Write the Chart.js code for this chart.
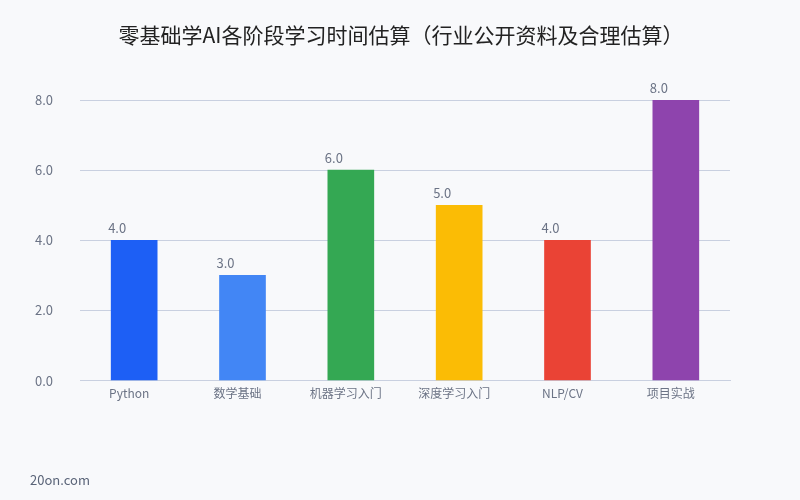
<!DOCTYPE html>
<html><head><meta charset="utf-8">
<script src="https://cdn.jsdelivr.net/npm/chart.js@4/dist/chart.umd.min.js"></script>
<style>html,body{margin:0;padding:0;background:#f8f9fb;}#wrap{width:800px;height:500px;position:relative;}</style>
</head><body><div id="wrap"><canvas id="c" width="800" height="500"></canvas></div>
<script>
const categories = ['Python', '数学基础', '机器学习入门', '深度学习入门', 'NLP/CV', '项目实战'];
const hours = [4.0, 3.0, 6.0, 5.0, 4.0, 8.0];
const yTicks = [0, 2, 4, 6, 8];
const barColors = ['#1d5ff5', '#4286f5', '#34a853', '#fbbc05', '#ea4335', '#8e44ad'];
const titleText = '零基础学AI各阶段学习时间估算（行业公开资料及合理估算）';
const watermark = '20on.com';
const FONT = '"Noto Sans CJK SC", "Noto Sans", sans-serif';

const labelPlugin = {
  id: 'labels',
  afterDatasetsDraw(chart) {
    const ctx = chart.ctx;
    const meta = chart.getDatasetMeta(0);
    ctx.save();
    ctx.font = '13px ' + FONT;
    ctx.fillStyle = '#6b7385';
    ctx.textAlign = 'center';
    ctx.textBaseline = 'alphabetic';
    meta.data.forEach((bar, i) => {
      ctx.fillText(hours[i].toFixed(1), bar.x - 17, bar.y - 7);
    });
    ctx.font = '13px ' + FONT;
    ctx.fillStyle = '#5a6478';
    ctx.textAlign = 'left';
    ctx.textBaseline = 'middle';
    ctx.fillText(watermark, 30, 480);
    ctx.font = '21px ' + FONT;
    ctx.fillStyle = '#222222';
    ctx.textAlign = 'center';
    ctx.fillText(titleText, 401, 35);
    ctx.restore();
  }
};
const bgPlugin = {
  id: 'bg',
  beforeDraw(chart) {
    const ctx = chart.ctx;
    ctx.save();
    ctx.fillStyle = '#f8f9fb';
    ctx.fillRect(0, 0, chart.width, chart.height);
    ctx.restore();
  }
};

new Chart(document.getElementById('c'), {
  type: 'bar',
  data: {
    labels: categories,
    datasets: [{ data: hours, backgroundColor: barColors, barThickness: 46 }]
  },
  options: {
    responsive: false,
    animation: false,
    layout: { padding: { left: 0, right: 70, top: 100, bottom: 93 } },
    plugins: {
      legend: { display: false },
      tooltip: { enabled: false },
      title: { display: false }
    },
    scales: {
      x: {
        grid: { display: false, drawTicks: false },
        border: { display: true, color: '#c9d0e0' },
        ticks: { color: '#6b7385', font: { family: FONT, size: 12 }, padding: 6, labelOffset: -5 }
      },
      y: {
        min: 0, max: 8,
        afterFit(s) { s.width = 80; },
        afterBuildTicks(s) { s.ticks = yTicks.map(v => ({ value: v })); },
        grid: { color: '#c9d0e0', drawTicks: false },
        border: { display: false },
        ticks: { color: '#6b7385', font: { family: FONT, size: 13 }, padding: 27,
          callback: v => v.toFixed(1) }
      }
    }
  },
  plugins: [bgPlugin, labelPlugin]
});
</script></body></html>
